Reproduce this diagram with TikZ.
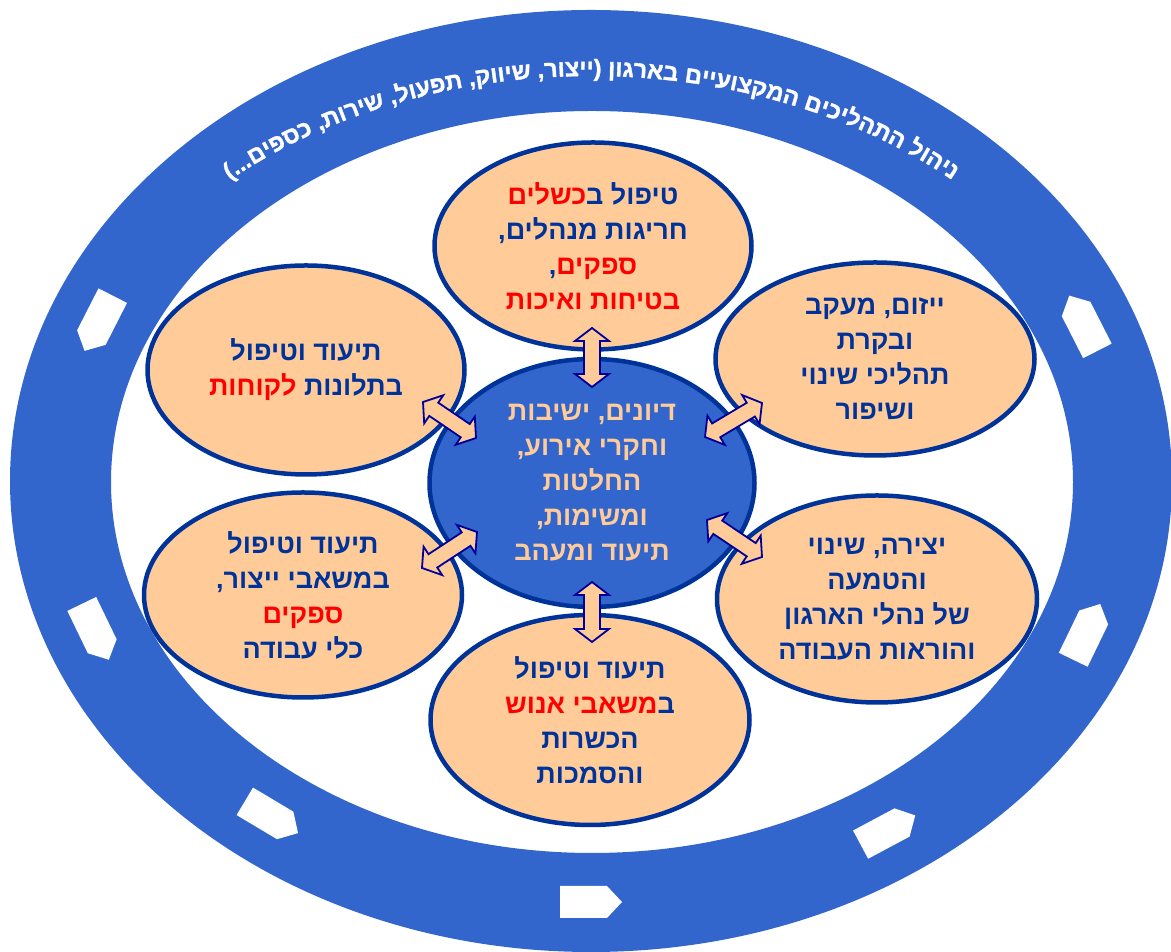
\documentclass[tikz,border=0pt]{standalone}
\usepackage{fontspec}
\usetikzlibrary{shapes.geometric,calc,decorations.text}
\TeXXeTstate=1
\newfontfamily\hebfont[Script=Hebrew]{Liberation Sans}
\newfontfamily\ringfont[Script=Hebrew, BoldFeatures={FakeBold=1.4}]{Liberation Sans}
\newcommand{\heb}[1]{\beginR #1\endR}
\newcommand{\hot}[1]{\textcolor{hotred}{\beginR #1\endR}}
\newcommand{\ringstyle}{\ringfont\bfseries\fontsize{23.5}{27}\selectfont}

\begin{document}
\begin{tikzpicture}[x=1pt, y=1pt, line join=round,
    bubble/.style={ellipse, draw=edgeblue, line width=4.5pt, fill=peach,
      inner sep=0pt, text=edgeblue, align=center,
      font=\hebfont\bfseries\fontsize{27}{35}\selectfont},
    hub/.style={bubble, fill=ringblue, text=peach},
    dblarrow/.style={draw=arrowline, fill=peach, line width=1.8pt, line join=miter,
      to path={let \p1=(\tikztostart), \p2=(\tikztotarget),
        \n1={atan2(\y2-\y1,\x2-\x1)} in
        (\p1) -- ($(\p1)+(\n1:13)+(\n1+90:17)$) -- ($(\p1)+(\n1:13)+(\n1+90:8)$)
        -- ($(\p2)+(\n1:-13)+(\n1+90:8)$) -- ($(\p2)+(\n1:-13)+(\n1+90:17)$)
        -- (\p2)
        -- ($(\p2)+(\n1:-13)+(\n1-90:17)$) -- ($(\p2)+(\n1:-13)+(\n1-90:8)$)
        -- ($(\p1)+(\n1:13)+(\n1-90:8)$) -- ($(\p1)+(\n1:13)+(\n1-90:17)$)
        -- cycle}},
    flowmark/.style={fill=white}]
  % צבעים
  \definecolor{ringblue}{HTML}{3366CC}
  \definecolor{peach}{HTML}{FFCC99}
  \definecolor{edgeblue}{HTML}{003399}
  \definecolor{arrowline}{HTML}{000099}
  \definecolor{hotred}{HTML}{FF0000}

  \useasboundingbox (0,0) rectangle (1171,952);

  % הטבעת החיצונית
  \fill[ringblue, even odd rule] (591,471) ellipse[x radius=581, y radius=471]
    (592,470) ellipse[x radius=481, y radius=371];

  % כותרת מעוקלת על הטבעת (האותיות בסדר חזותי, משמאל לימין)
  \path[decorate, decoration={text along path, text align=center, text color=white,
      text={|\ringstyle|)...םיפסכ ,תוריש ,לועפת ,קוויש ,רוציי( ןוגראב םייעוצקמה םיכילהתה לוהינ}}]
    ($(591,471)+(145:540 and 405)$) arc[start angle=145, end angle=35, x radius=540, y radius=405];

  % חיצי זרימה לבנים על הטבעת
  \foreach \t in {22,158,201,233,270,304,339}{
    \pgfmathsetmacro{\dir}{atan2(421*cos(\t),-531*sin(\t))}
    \begin{scope}[shift={($(591,471)+(\t:531 and 421)$)}, rotate=\dir]
      \fill[flowmark] (-31,-16) -- (16,-16) -- (31,0) -- (16,16) -- (-31,16) -- cycle;
    \end{scope}
  }

  % תחומי הטיפול
  \node[bubble, minimum width=317, minimum height=207] (failures) at (593,706)
    {\hot{כשלים}\heb{טיפול ב}\\ \heb{חריגות מנהלים,}\\ ,\hot{ספקים}\\ \hot{בטיחות ואיכות}};
  \node[bubble, minimum width=317, minimum height=209] (customers) at (306,582)
    {\heb{תיעוד וטיפול}\\ \hot{לקוחות}\ \heb{בתלונות}};
  \node[bubble, minimum width=319, minimum height=193] (improve) at (875,593)
    {\heb{ייזום, מעקב}\\ \heb{ובקרת}\\ \heb{תהליכי שינוי}\\ \heb{ושיפור}};
  \node[bubble, minimum width=318, minimum height=205] (resources) at (303,357)
    {\heb{תיעוד וטיפול}\\ \heb{במשאבי ייצור,}\\ \hot{ספקים}\\ \heb{כלי עבודה}};
  \node[bubble, minimum width=320, minimum height=207] (procedures) at (877,353)
    {\heb{יצירה, שינוי}\\ \heb{והטמעה}\\ \heb{של נהלי הארגון}\\ \heb{והוראות העבודה}};
  \node[bubble, minimum width=319, minimum height=210] (people) at (590,232)
    {\heb{תיעוד וטיפול}\\ \hot{משאבי אנוש}\heb{ב}\\ \heb{הכשרות}\\ \heb{והסמכות}};

  % מרכז
  \node[hub, minimum width=325, minimum height=248] (meetings) at (592,469)
    {\heb{דיונים, ישיבות}\\ \heb{וחקרי אירוע,}\\ \heb{החלטות}\\ \heb{ומשימות,}\\ \heb{תיעוד ומעהב}};

  % חיצים דו-כיווניים
  \coordinate (upA) at (592,624);  \coordinate (upB) at (592,565);
  \coordinate (dnA) at (592,370);  \coordinate (dnB) at (592,310);
  \coordinate (ulA) at (423,550);  \coordinate (ulB) at (476,514);
  \coordinate (urA) at (705,515);  \coordinate (urB) at (762,549);
  \coordinate (llA) at (422,384);  \coordinate (llB) at (477,420);
  \coordinate (lrA) at (707,432);  \coordinate (lrB) at (762,395);
  \foreach \a/\b in {upA/upB, dnA/dnB, ulA/ulB, urA/urB, llA/llB, lrA/lrB}
    \draw[dblarrow] (\a) to (\b);
\end{tikzpicture}
\end{document}
